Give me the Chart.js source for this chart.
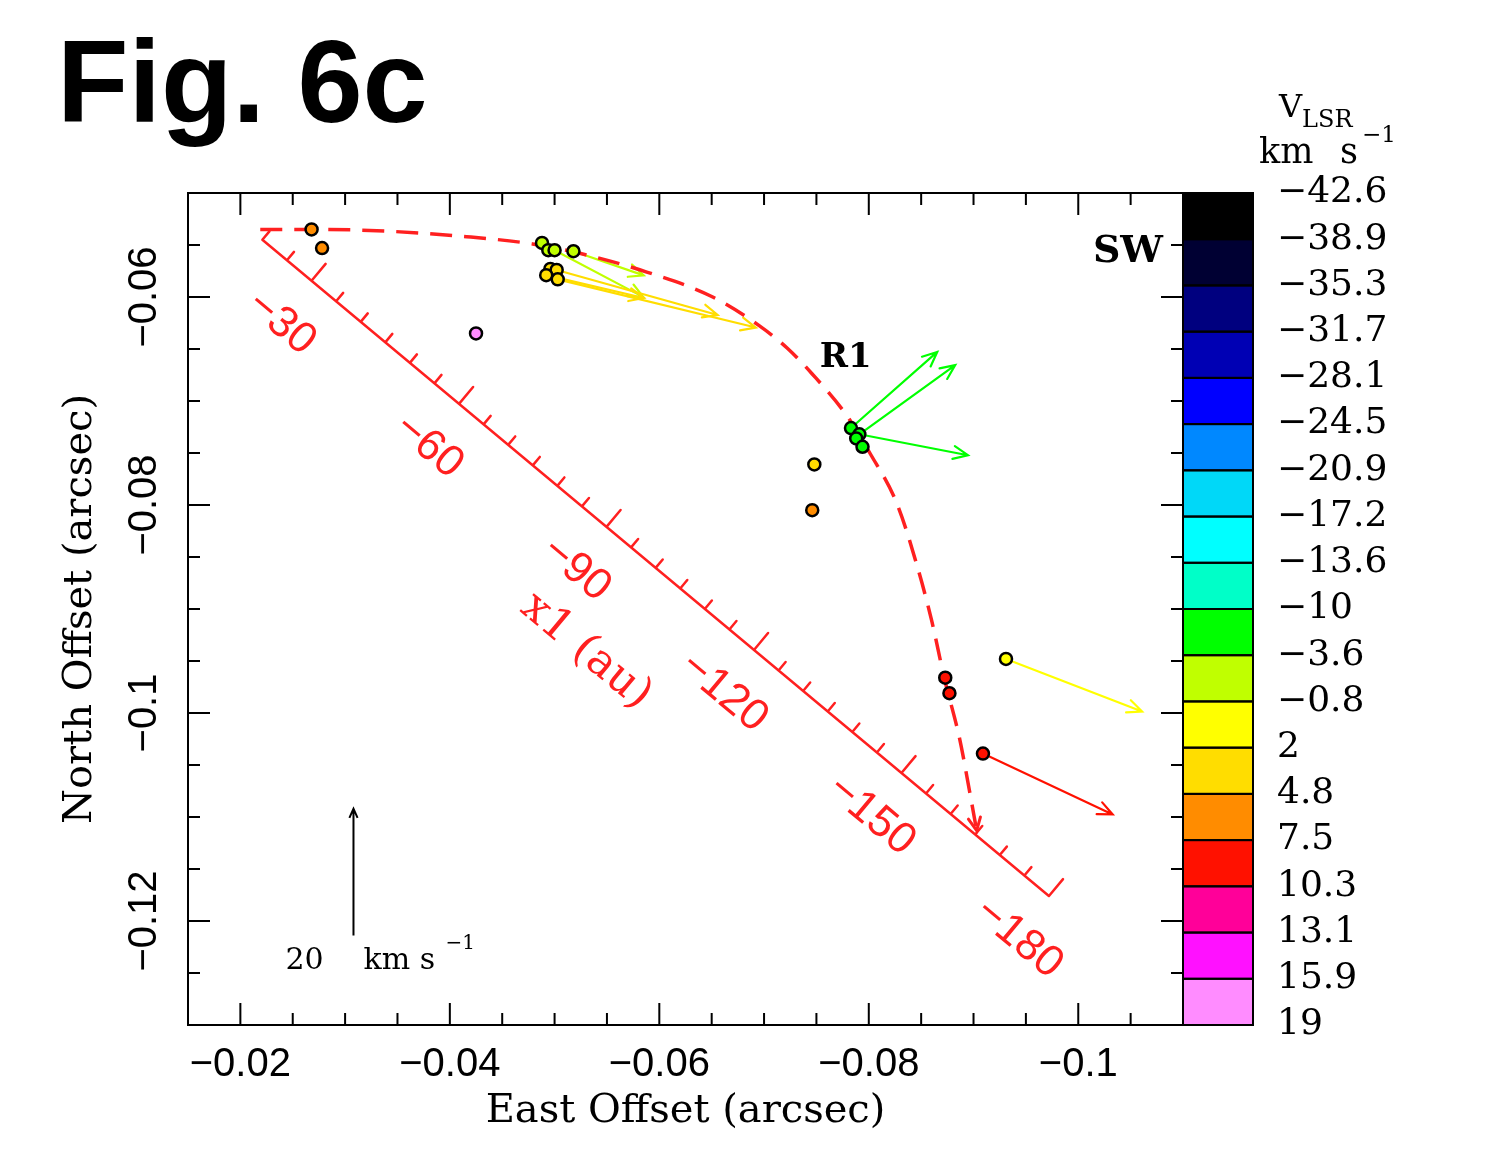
<!DOCTYPE html>
<html lang="en">
<head>
<meta charset="UTF-8">
<title>Fig. 6c</title>
<script src="https://cdn.jsdelivr.net/npm/chart.js"></script>
<style>
  html, body { margin: 0; padding: 0; background: #fff; }
  .wrap { position: relative; width: 1502px; height: 1153px; }
  canvas { position: absolute; left: 0; top: 0; }
  #fig { position: absolute; left: 57px; top: 23px; font: bold 117px "Liberation Sans", Arial, sans-serif; line-height: 1; color: #000; }
</style>
</head>
<body>
<div class="wrap">
  <canvas id="c" width="1502" height="1153"></canvas>
  <div id="fig">Fig. 6c</div>
</div>

<script>
// maser spots: East / North offset (arcsec) and V_LSR (km/s)
const spotX = [-0.0268, -0.0278, -0.0488, -0.0494, -0.0500, -0.0518, -0.0496, -0.0502, -0.0492, -0.0503,
               -0.0425, -0.0783, -0.0791, -0.0788, -0.0794, -0.0748, -0.0746, -0.0873, -0.0877, -0.0931, -0.0909];
const spotY = [-0.0535, -0.0553, -0.0548, -0.0555, -0.0555, -0.0556, -0.0573, -0.0574, -0.0579, -0.0583,
               -0.0635, -0.0726, -0.0732, -0.0736, -0.0744, -0.0761, -0.0805, -0.0966, -0.0981, -0.0948, -0.1039];
const spotV = [6.0, 6.0, -2.0, -2.0, -2.0, -2.0, 3.5, 3.5, 3.5, 3.5,
               17.0, -6.0, -6.0, -6.0, -6.0, 3.5, 6.0, 9.0, 9.0, 1.0, 9.0];

// proper motions: spot index, east and north velocity (km/s)
const pmSpot = [5, 4, 8, 7, 9, 11, 12, 12, 19, 20];
const pmVE   = [-11.0, -13.9, -15.3, -25.2, -31.0, -13.5, -15.0, -17.0, -21.3, -20.3];
const pmVN   = [-3.8, -7.4, -3.6, -7.1, -7.6, 12.0, 10.9, -3.3, -8.3, -9.6];
const velScale = 0.00061;   // arcsec per km/s
const scaleBarV = 20;       // km/s
const scaleBarAt = [-0.0308, -0.1214];

// dashed model curve (arcsec)
const ridgeX = [-0.0219, -0.0270, -0.0346, -0.0416, -0.0479, -0.0524, -0.0588, -0.0651, -0.0696, -0.0722,
                -0.0746, -0.0779, -0.0801, -0.0827, -0.0846, -0.0860, -0.0872, -0.0887, -0.0896, -0.0903];
const ridgeY = [-0.0535, -0.0535, -0.0537, -0.0542, -0.0549, -0.0558, -0.0576, -0.0600, -0.0628, -0.0649,
                -0.0674, -0.0714, -0.0750, -0.0799, -0.0858, -0.0911, -0.0966, -0.1026, -0.1074, -0.1113];

// axis ticks (arcsec)
const yTicks = [-0.12, -0.1, -0.08, -0.06];

// x1 axis drawn across the map (au)
const x1Start = [-0.0221, -0.0545];
const x1End = [-0.0972, -0.1176];
const x1From = -20, x1To = -180;
const x1Labels = [-30, -60, -90, -120, -150, -180];

// colour bar
const cbValues = [-42.6, -38.9, -35.3, -31.7, -28.1, -24.5, -20.9, -17.2, -13.6, -10, -3.6, -0.8, 2, 4.8, 7.5, 10.3, 13.1, 15.9, 19];
const cbColors = ['#000000', '#000033', '#00007f', '#0000b4', '#0000ff', '#0088ff', '#00d8f8', '#00ffff', '#00ffc8',
                  '#00ff00', '#c0ff00', '#ffff00', '#ffdd00', '#ff8c00', '#ff1100', '#ff0099', '#ff11ff', '#ff8cff'];

const RED = '#ff2020';
const SERIF = '"DejaVu Serif", serif';
const SANS = '"Liberation Sans", Arial, sans-serif';

const fmt = v => String(+(+v).toFixed(3)).replace('-', '\u2212');

function velColor(v) {
  for (let i = 0; i < cbColors.length; i++) {
    if (v >= cbValues[i] && v < cbValues[i + 1]) return cbColors[i];
  }
  return cbColors[cbColors.length - 1];
}

function arrow(ctx, x0, y0, x1, y1, head) {
  const a = Math.atan2(y1 - y0, x1 - x0);
  ctx.beginPath();
  ctx.moveTo(x0, y0);
  ctx.lineTo(x1, y1);
  ctx.moveTo(x1 - head * Math.cos(a - 0.42), y1 - head * Math.sin(a - 0.42));
  ctx.lineTo(x1, y1);
  ctx.lineTo(x1 - head * Math.cos(a + 0.42), y1 - head * Math.sin(a + 0.42));
  ctx.stroke();
}

const underlay = {
  id: 'underlay',
  beforeDatasetsDraw(chart) {
    const {ctx, scales: {x, y}} = chart;
    ctx.save();
    ctx.lineCap = 'round';

    // x1 axis with ticks
    const p0 = [x.getPixelForValue(x1Start[0]), y.getPixelForValue(x1Start[1])];
    const p1 = [x.getPixelForValue(x1End[0]), y.getPixelForValue(x1End[1])];
    const dx = p1[0] - p0[0], dy = p1[1] - p0[1], L = Math.hypot(dx, dy);
    const ux = dx / L, uy = dy / L, nx = uy, ny = -ux;
    const at = a => {
      const f = (a - x1From) / (x1To - x1From);
      return [p0[0] + dx * f, p0[1] + dy * f];
    };
    ctx.strokeStyle = RED;
    ctx.lineWidth = 2.5;
    ctx.beginPath();
    ctx.moveTo(p0[0], p0[1]);
    ctx.lineTo(p1[0], p1[1]);
    for (let a = x1From; a >= x1To; a -= 5) {
      const [bx, by] = at(a);
      const len = a % 30 === 0 ? 22 : 11;
      ctx.moveTo(bx, by);
      ctx.lineTo(bx + nx * len, by + ny * len);
    }
    ctx.stroke();

    const ang = Math.atan2(dy, dx);
    ctx.fillStyle = RED;
    ctx.textAlign = 'center';
    ctx.textBaseline = 'middle';
    ctx.font = '44px ' + SANS;
    x1Labels.forEach(v => {
      const [bx, by] = at(v);
      ctx.save();
      ctx.translate(bx - nx * 52 + ux * 4, by - ny * 52 + uy * 4);
      ctx.rotate(ang);
      ctx.fillText(fmt(v), 0, 0);
      ctx.restore();
    });
    const [tx, ty] = at(-100);
    ctx.save();
    ctx.translate(tx - nx * 109, ty - ny * 109);
    ctx.rotate(ang);
    ctx.font = '44px ' + SERIF;
    ctx.fillText('x1 (au)', 0, 0);
    ctx.restore();

    // arrowhead at the end of the dashed curve
    const n = ridgeX.length;
    ctx.lineWidth = 3;
    const ex = x.getPixelForValue(ridgeX[n - 1]), ey = y.getPixelForValue(ridgeY[n - 1]);
    const sx = x.getPixelForValue(ridgeX[n - 2]), sy = y.getPixelForValue(ridgeY[n - 2]);
    const ea = Math.atan2(ey - sy, ex - sx);
    ctx.beginPath();
    ctx.moveTo(ex - 14 * Math.cos(ea - 0.45), ey - 14 * Math.sin(ea - 0.45));
    ctx.lineTo(ex, ey);
    ctx.lineTo(ex - 14 * Math.cos(ea + 0.45), ey - 14 * Math.sin(ea + 0.45));
    ctx.stroke();

    // proper motion arrows
    ctx.lineWidth = 2.2;
    pmSpot.forEach((s, i) => {
      ctx.strokeStyle = velColor(spotV[s]);
      arrow(ctx,
        x.getPixelForValue(spotX[s]), y.getPixelForValue(spotY[s]),
        x.getPixelForValue(spotX[s] + pmVE[i] * velScale), y.getPixelForValue(spotY[s] + pmVN[i] * velScale), 16);
    });
    ctx.restore();
  },
  afterDraw(chart) {
    const {ctx, chartArea: ca, scales: {x, y, cb}} = chart;
    ctx.save();

    // colour bar
    cbColors.forEach((c, i) => {
      const y0 = cb.getPixelForValue(i), y1 = cb.getPixelForValue(i + 1);
      ctx.fillStyle = c;
      ctx.fillRect(ca.right, y0, 70, y1 - y0);
    });
    ctx.strokeStyle = '#000';
    ctx.lineWidth = 2;
    cbColors.forEach((c, i) => {
      const y0 = cb.getPixelForValue(i), y1 = cb.getPixelForValue(i + 1);
      ctx.strokeRect(ca.right, y0, 70, y1 - y0);
    });

    // frame and inward ticks
    ctx.lineWidth = 2;
    ctx.strokeRect(ca.left, ca.top, ca.right - ca.left, ca.bottom - ca.top);
    ctx.beginPath();
    for (let k = -22; k <= -3; k++) {
      const px = x.getPixelForValue(k * 0.005);
      if (px <= ca.left + 1 || px >= ca.right - 1) continue;
      const len = k % 4 === 0 ? 22 : 12;
      ctx.moveTo(px, ca.bottom); ctx.lineTo(px, ca.bottom - len);
      ctx.moveTo(px, ca.top); ctx.lineTo(px, ca.top + len);
    }
    for (let k = -26; k <= -10; k++) {
      const py = y.getPixelForValue(k * 0.005);
      if (py <= ca.top + 1 || py >= ca.bottom - 1) continue;
      const len = k % 4 === 0 ? 22 : 12;
      ctx.moveTo(ca.left, py); ctx.lineTo(ca.left + len, py);
      ctx.moveTo(ca.right, py); ctx.lineTo(ca.right - len, py);
    }
    ctx.stroke();

    // y tick labels, written vertically
    ctx.fillStyle = '#000';
    ctx.font = '40px ' + SANS;
    ctx.textAlign = 'center';
    ctx.textBaseline = 'middle';
    y.ticks.forEach(t => {
      ctx.save();
      ctx.translate(145, y.getPixelForValue(t.value));
      ctx.rotate(-Math.PI / 2);
      ctx.fillText(fmt(t.value), 0, 0);
      ctx.restore();
    });

    // colour bar heading
    ctx.textAlign = 'left';
    ctx.textBaseline = 'alphabetic';
    ctx.font = '32px ' + SERIF;
    ctx.fillText('V', ca.right + 96, 117);
    ctx.font = '24px ' + SERIF;
    ctx.fillText('LSR', ca.right + 119, 127);
    ctx.font = '35px ' + SERIF;
    ctx.fillText('km', ca.right + 76, 163);
    ctx.fillText('s', ca.right + 157, 163);
    ctx.font = '23px ' + SERIF;
    ctx.fillText('\u22121', ca.right + 179, 142);

    // labels in the map
    ctx.font = 'bold 38px ' + SERIF;
    ctx.textAlign = 'right';
    ctx.fillText('SW', ca.right - 20, 262);
    ctx.textAlign = 'center';
    ctx.textBaseline = 'middle';
    ctx.font = 'bold 34px ' + SERIF;
    ctx.fillText('R1', x.getPixelForValue(-0.0778), y.getPixelForValue(-0.0659));

    // velocity scale bar
    const bx = x.getPixelForValue(scaleBarAt[0]), by = y.getPixelForValue(scaleBarAt[1]);
    const tipY = y.getPixelForValue(scaleBarAt[1] + scaleBarV * velScale);
    ctx.strokeStyle = '#000';
    ctx.lineWidth = 2;
    arrow(ctx, bx, by, bx, tipY, 10);
    ctx.textBaseline = 'alphabetic';
    ctx.textAlign = 'left';
    ctx.font = '30px ' + SERIF;
    ctx.fillText(String(scaleBarV), bx - 68, by + 33);
    ctx.fillText('km s', bx + 10, by + 33);
    ctx.font = '20px ' + SERIF;
    ctx.fillText('\u22121', bx + 92, by + 13);
    ctx.restore();
  }
};

new Chart(document.getElementById('c'), {
  type: 'scatter',
  data: {
    datasets: [
      {
        label: 'spots',
        data: spotX.map((v, i) => ({x: v, y: spotY[i]})),
        pointRadius: 6,
        pointBackgroundColor: spotV.map(velColor),
        pointBorderColor: '#000',
        pointBorderWidth: 2.5,
        order: 1
      },
      {
        label: 'ridge',
        type: 'line',
        data: ridgeX.map((v, i) => ({x: v, y: ridgeY[i]})),
        borderColor: RED,
        borderWidth: 3.5,
        borderDash: [22, 12],
        pointRadius: 0,
        cubicInterpolationMode: 'monotone',
        fill: false,
        order: 2
      }
    ]
  },
  options: {
    responsive: false,
    animation: false,
    devicePixelRatio: 1,
    layout: {padding: {top: 193, left: 0, right: 0, bottom: 0}},
    plugins: {legend: {display: false}, tooltip: {enabled: false}},
    scales: {
      x: {
        type: 'linear', position: 'bottom', reverse: true, min: -0.11, max: -0.015,
        afterFit: s => { s.height = 128; },
        grid: {display: false, drawTicks: false},
        border: {display: false},
        ticks: {stepSize: 0.02, includeBounds: false, autoSkip: false, maxRotation: 0, padding: 16,
                color: '#000', font: {family: SANS, size: 40}, callback: v => fmt(v)},
        title: {display: true, text: 'East Offset (arcsec)', color: '#000',
                font: {family: SERIF, size: 40}, padding: {top: 0, bottom: 17}}
      },
      y: {
        type: 'linear', position: 'left', min: -0.13, max: -0.05,
        afterFit: s => { s.width = 188; },
        afterBuildTicks: s => { s.ticks = yTicks.map(v => ({value: v})); },
        grid: {display: false, drawTicks: false},
        border: {display: false},
        ticks: {display: false},
        title: {display: true, text: 'North Offset (arcsec)', color: '#000',
                font: {family: SERIF, size: 40}, padding: {top: 57, bottom: 0}}
      },
      cb: {
        type: 'linear', position: 'right', min: 0, max: 18, reverse: true,
        afterFit: s => { s.width = 319; },
        grid: {display: false, drawTicks: false},
        border: {display: false},
        ticks: {stepSize: 1, autoSkip: false, padding: 94, color: '#000',
                font: {family: SERIF, size: 36}, callback: v => fmt(cbValues[v])}
      }
    }
  },
  plugins: [underlay]
});
</script>
</body>
</html>
